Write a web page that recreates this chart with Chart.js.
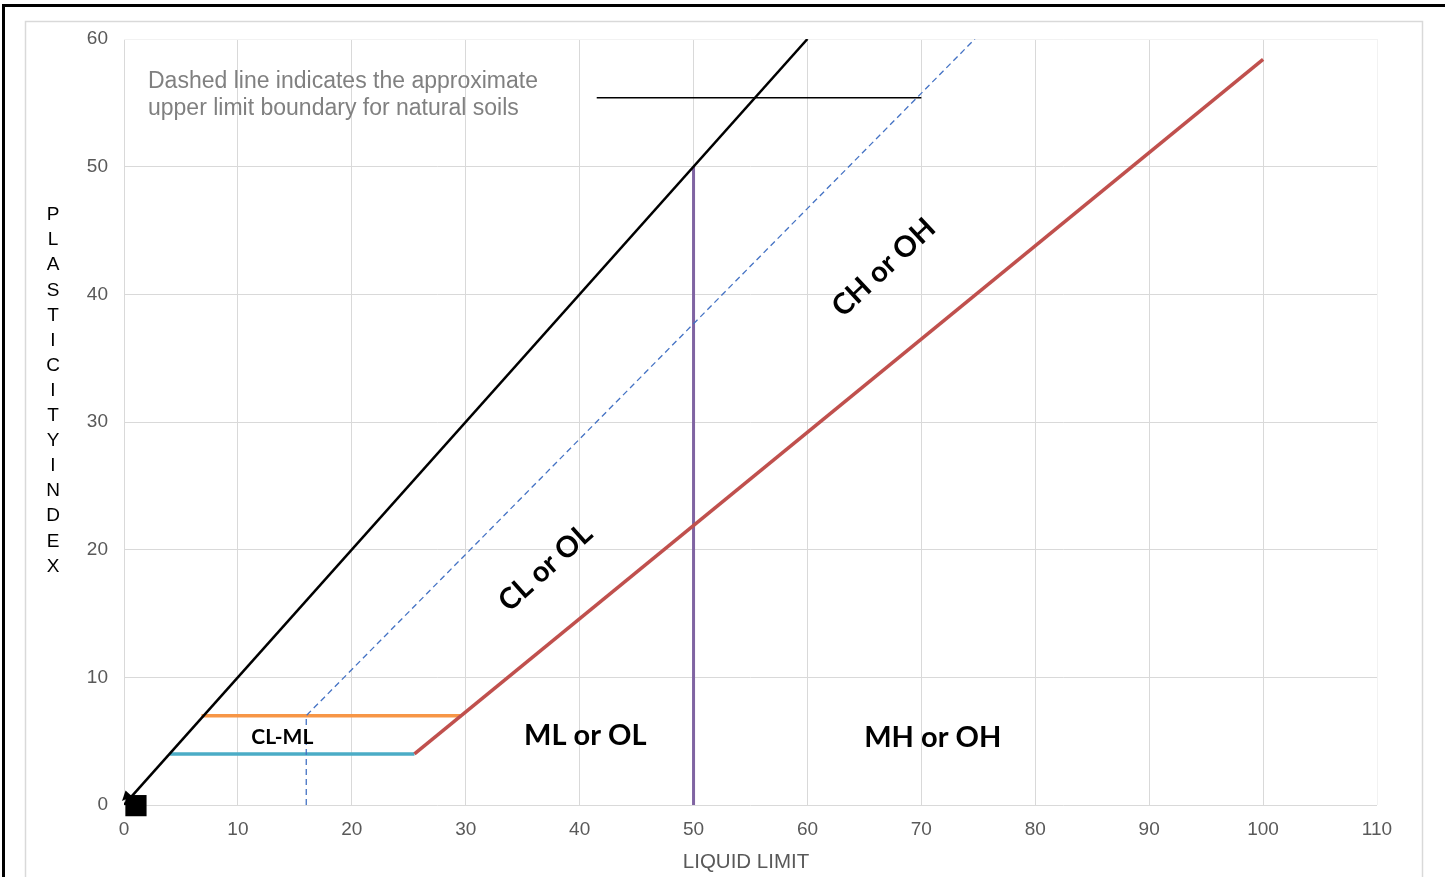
<!DOCTYPE html>
<html>
<head>
<meta charset="utf-8">
<script src="https://cdn.jsdelivr.net/npm/chart.js@4.4.1/dist/chart.umd.min.js"></script>
<style>
    html, body { margin: 0; padding: 0; background: #ffffff; }
    canvas { display: block; }
</style>
</head>
<body>
<canvas id="grafico-plasticidade" width="1445" height="877"></canvas>
<script>
// tick labels
const xTickValues = [0, 10, 20, 30, 40, 50, 60, 70, 80, 90, 100, 110];
const yTickValues = [0, 10, 20, 30, 40, 50, 60];

// lines of the chart (liquid limit, plasticity index)
const blackLineLL = [0, 60];
const blackLinePI = [0, 60];
const uLineLL = [16, 16, 74.7];
const uLinePI = [0, 7, 60];
const aLineLL = [25.5, 100];
const aLinePI = [4, 58.4];
const orangeLL = [6.8, 29.6];
const orangePI = [7, 7];
const tealLL = [4, 25.5];
const tealPI = [4, 4];
const purpleLL = [50, 50];
const purplePI = [0, 50];
const noteLineLL = [41.5, 70];
const noteLinePI = [55.4, 55.4];
const squareLL = [1.05];
const squarePI = [-0.05];

// texts
const zoneNames = ['CL or OL', 'CH or OH', 'ML or OL', 'MH or OH', 'CL-ML'];
const noteText = ['Dashed line indicates the approximate', 'upper limit boundary for natural soils'];
const yTitle = 'PLASTICITY INDEX';
const xTitle = 'LIQUID LIMIT';

function pontos(xs, ys) {
    let lista = [];
    for (let i = 0; i < xs.length; i++) {
        lista.push({ x: xs[i], y: ys[i] });
    }
    return lista;
}

function linha(xs, ys, cor, largura, extra) {
    let ds = {
        data: pontos(xs, ys),
        showLine: true,
        borderColor: cor,
        backgroundColor: cor,
        borderWidth: largura,
        pointRadius: 0,
        borderCapStyle: 'butt'
    };
    return Object.assign(ds, extra || {});
}

const molduraPlugin = {
    id: 'moldura',
    beforeDraw(chart) {
        let ctx = chart.ctx;
        ctx.save();
        ctx.fillStyle = '#ffffff';
        ctx.fillRect(0, 0, chart.width, chart.height);
        ctx.strokeStyle = '#d9d9d9';
        ctx.lineWidth = 1.5;
        ctx.strokeRect(25.5, 21.5, 1397, 900);
        ctx.fillStyle = '#000000';
        ctx.fillRect(2, 4, chart.width, 3);
        ctx.fillRect(2, 4, 3, chart.height);
        ctx.restore();
    }
};

const textosPlugin = {
    id: 'textos',
    afterDatasetsDraw(chart) {
        let ctx = chart.ctx;
        let x = chart.scales.x;
        let y = chart.scales.y;
        ctx.save();

        // arrow head at the start of the black line
        let px = x.getPixelForValue(blackLineLL[0]) - 2;
        let py = y.getPixelForValue(blackLinePI[0]) - 4;
        let ang = Math.atan2(y.getPixelForValue(blackLinePI[1]) - y.getPixelForValue(blackLinePI[0]),
            x.getPixelForValue(blackLineLL[1]) - x.getPixelForValue(blackLineLL[0]));
        ctx.fillStyle = '#000000';
        ctx.beginPath();
        ctx.moveTo(px, py);
        ctx.lineTo(px + 11 * Math.cos(ang + 0.4), py + 11 * Math.sin(ang + 0.4));
        ctx.lineTo(px + 11 * Math.cos(ang - 0.4), py + 11 * Math.sin(ang - 0.4));
        ctx.closePath();
        ctx.fill();

        // zone labels
        let posicoes = [[37.0, 18.6, -42], [66.7, 42.1, -43], [40.5, 5.4, 0], [71.0, 5.3, 0], [13.9, 5.3, 0]];
        let tamanhos = [29, 29, 29, 29, 21];
        ctx.fillStyle = '#000000';
        ctx.textAlign = 'center';
        ctx.textBaseline = 'middle';
        for (let i = 0; i < zoneNames.length; i++) {
            ctx.save();
            ctx.translate(x.getPixelForValue(posicoes[i][0]), y.getPixelForValue(posicoes[i][1]));
            ctx.rotate(posicoes[i][2] * Math.PI / 180);
            ctx.font = `bold ${tamanhos[i]}px Lato`;
            ctx.fillText(zoneNames[i], 0, 0);
            ctx.restore();
        }

        // note
        ctx.fillStyle = '#808080';
        ctx.textAlign = 'left';
        ctx.font = '23px "Liberation Sans"';
        ctx.fillText(noteText[0], 148, 82);
        ctx.fillText(noteText[1], 148, 109);

        // axis titles
        ctx.fillStyle = '#000000';
        ctx.textAlign = 'center';
        ctx.font = '19px "Liberation Sans"';
        let letras = yTitle.replace(' ', '');
        for (let i = 0; i < letras.length; i++) {
            ctx.fillText(letras[i], 53, 215 + i * 25.1);
        }
        ctx.fillStyle = '#595959';
        ctx.font = '20.5px "Liberation Sans"';
        ctx.fillText(xTitle, 746, 862);
        ctx.restore();
    }
};

function plotarGrafico() {
    let dados = {
        datasets: [
            linha(blackLineLL, blackLinePI, '#000000', 2.5),
            linha(uLineLL, uLinePI, '#4472c4', 1.3, { borderDash: [6, 4] }),
            linha(aLineLL, aLinePI, '#c0504d', 3.5),
            linha(orangeLL, orangePI, '#f79646', 3.5),
            linha(tealLL, tealPI, '#4bacc6', 3.5),
            linha(purpleLL, purplePI, '#8064a2', 3),
            linha(noteLineLL, noteLinePI, '#000000', 1.5),
            {
                data: pontos(squareLL, squarePI),
                showLine: false,
                pointStyle: 'rect',
                pointRadius: 15,
                backgroundColor: '#000000',
                borderColor: '#000000',
                borderWidth: 0,
                clip: false
            }
        ]
    };

    let config = {
        type: 'scatter',
        data: dados,
        options: {
            responsive: false,
            animation: false,
            devicePixelRatio: 1,
            layout: {
                padding: { top: 39, right: 68, bottom: 0, left: 0 }
            },
            plugins: {
                legend: { display: false },
                tooltip: { enabled: false }
            },
            scales: {
                x: {
                    type: 'linear',
                    min: 0,
                    max: 110,
                    afterBuildTicks: function (escala) {
                        escala.ticks = xTickValues.map(v => ({ value: v }));
                    },
                    afterFit: function (escala) {
                        escala.height = 72;
                    },
                    grid: {
                        drawTicks: false,
                        color: function (c) {
                            return c.tick && c.tick.value == 110 ? '#f2f2f2' : '#d9d9d9';
                        }
                    },
                    border: { display: false },
                    ticks: {
                        padding: 13,
                        color: '#595959',
                        font: { family: 'Liberation Sans', size: 19 }
                    }
                },
                y: {
                    type: 'linear',
                    min: 0,
                    max: 60,
                    afterBuildTicks: function (escala) {
                        escala.ticks = yTickValues.map(v => ({ value: v }));
                    },
                    afterFit: function (escala) {
                        escala.width = 124;
                    },
                    grid: {
                        drawTicks: false,
                        color: function (c) {
                            return c.tick && c.tick.value == 60 ? '#f2f2f2' : '#d9d9d9';
                        }
                    },
                    border: { display: false },
                    ticks: {
                        padding: 16,
                        color: '#595959',
                        font: { family: 'Liberation Sans', size: 19 }
                    }
                }
            }
        },
        plugins: [molduraPlugin, textosPlugin]
    };

    let meuGrafico = new Chart(
        document.getElementById('grafico-plasticidade'),
        config
    );
}

plotarGrafico();
</script>
</body>
</html>
